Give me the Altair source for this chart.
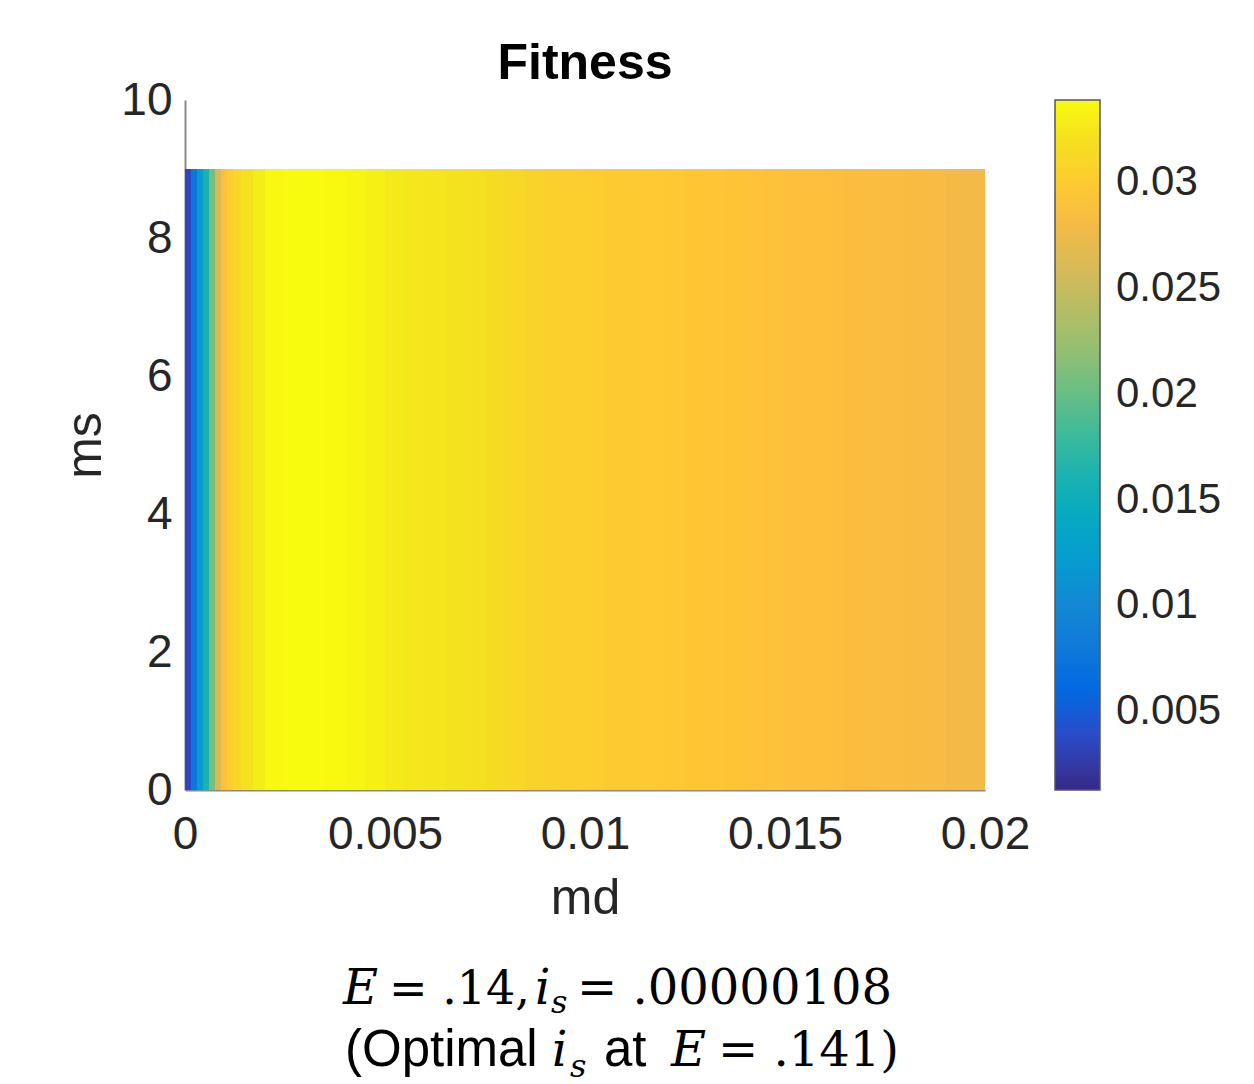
import altair as alt
import pandas as pd

# ---------------- data ----------------
md_edges = [0, 0.00015, 0.0003, 0.00045, 0.0006, 0.00075, 0.0009, 0.00105, 0.0012,
            0.0014, 0.0017, 0.002, 0.0025, 0.003, 0.0035, 0.004, 0.0045, 0.005,
            0.0055, 0.006, 0.0065, 0.007, 0.0075, 0.008, 0.0085, 0.009, 0.0095,
            0.01, 0.0105, 0.011, 0.0115, 0.012, 0.0125, 0.013, 0.0135, 0.014,
            0.0145, 0.015, 0.0155, 0.016, 0.0165, 0.017, 0.0175, 0.018, 0.0185,
            0.019, 0.0195, 0.02]
fitness = [0.0035, 0.0075, 0.0120, 0.0160, 0.0205, 0.0260, 0.0288, 0.0302,
           0.0312, 0.0322, 0.0330, 0.0337, 0.0339, 0.0339, 0.0338, 0.0335,
           0.0332, 0.0328, 0.0326, 0.0324, 0.0322, 0.0320, 0.0316, 0.0312,
           0.0308, 0.0305, 0.0303, 0.0301, 0.0300, 0.0299, 0.0298, 0.0297,
           0.0295, 0.0294, 0.0293, 0.0291, 0.0290, 0.0289, 0.0288, 0.0287,
           0.0286, 0.0285, 0.0284, 0.0283, 0.0282, 0.0280, 0.0279]
ms_min = 0
ms_max = 9

x_ticks = [0, 0.005, 0.01, 0.015, 0.02]
y_ticks = [0, 2, 4, 6, 8, 10]
cbar_ticks = [0.005, 0.01, 0.015, 0.02, 0.025, 0.03]
cbar_min = 0.00126
cbar_max = 0.0339

title_text = "Fitness"
x_title = "md"
y_title = "ms"

# ---------------- parula colormap ----------------
parula = [[0.2081, 0.1663, 0.5292], [0.2116, 0.1898, 0.5777], [0.2123, 0.2138, 0.6270], [0.2081, 0.2386, 0.6771],
          [0.1959, 0.2645, 0.7279], [0.1707, 0.2919, 0.7792], [0.1253, 0.3242, 0.8303], [0.0591, 0.3598, 0.8683],
          [0.0117, 0.3875, 0.8820], [0.0060, 0.4086, 0.8828], [0.0165, 0.4266, 0.8786], [0.0329, 0.4430, 0.8720],
          [0.0498, 0.4586, 0.8641], [0.0629, 0.4737, 0.8554], [0.0723, 0.4887, 0.8467], [0.0779, 0.5040, 0.8384],
          [0.0793, 0.5200, 0.8312], [0.0749, 0.5375, 0.8263], [0.0641, 0.5570, 0.8240], [0.0488, 0.5772, 0.8228],
          [0.0343, 0.5966, 0.8199], [0.0265, 0.6137, 0.8135], [0.0239, 0.6287, 0.8038], [0.0231, 0.6418, 0.7913],
          [0.0228, 0.6535, 0.7768], [0.0267, 0.6642, 0.7607], [0.0384, 0.6743, 0.7436], [0.0590, 0.6838, 0.7254],
          [0.0843, 0.6928, 0.7062], [0.1133, 0.7015, 0.6859], [0.1453, 0.7098, 0.6646], [0.1801, 0.7177, 0.6424],
          [0.2178, 0.7250, 0.6193], [0.2586, 0.7317, 0.5954], [0.3022, 0.7376, 0.5712], [0.3482, 0.7424, 0.5473],
          [0.3953, 0.7459, 0.5244], [0.4420, 0.7481, 0.5033], [0.4871, 0.7491, 0.4840], [0.5300, 0.7491, 0.4661],
          [0.5709, 0.7485, 0.4494], [0.6099, 0.7473, 0.4337], [0.6473, 0.7456, 0.4188], [0.6834, 0.7435, 0.4044],
          [0.7184, 0.7411, 0.3905], [0.7525, 0.7384, 0.3768], [0.7858, 0.7356, 0.3633], [0.8185, 0.7327, 0.3498],
          [0.8507, 0.7299, 0.3360], [0.8824, 0.7274, 0.3217], [0.9139, 0.7258, 0.3063], [0.9450, 0.7261, 0.2886],
          [0.9739, 0.7314, 0.2666], [0.9938, 0.7455, 0.2403], [0.9990, 0.7653, 0.2164], [0.9955, 0.7861, 0.1967],
          [0.9880, 0.8066, 0.1794], [0.9789, 0.8271, 0.1633], [0.9697, 0.8481, 0.1475], [0.9626, 0.8705, 0.1309],
          [0.9589, 0.8949, 0.1132], [0.9598, 0.9218, 0.0948], [0.9661, 0.9514, 0.0755], [0.9763, 0.9831, 0.0538]]
parula_hex = ["#%02x%02x%02x" % tuple(int(round(c * 255)) for c in rgb) for rgb in parula]
n = len(parula_hex)
color_domain = [cbar_min + (cbar_max - cbar_min) * i / (n - 1) for i in range(n)]

df = pd.DataFrame({
    "md_lo": md_edges[:-1],
    "md_hi": md_edges[1:],
    "fitness": fitness,
    "ms_lo": [ms_min] * len(fitness),
    "ms_hi": [ms_max] * len(fitness),
})

SANS = "Liberation Sans"
SERIF = "DejaVu Serif"
TXT = "#262626"
AX = "#8a8a8a"

cscale = alt.Scale(domain=color_domain, range=parula_hex, clamp=True)

heat = alt.Chart(df).mark_rect(strokeWidth=0).encode(
    x=alt.X("md_lo:Q", scale=alt.Scale(domain=[0, 0.02], nice=False, zero=False),
            axis=alt.Axis(title=x_title, values=x_ticks, format="~g", ticks=False, grid=False,
                          labelFontSize=46, labelFont=SANS, labelColor=TXT, labelPadding=22,
                          titleFontSize=50, titleFont=SANS, titleFontWeight="normal", titleColor=TXT,
                          titlePadding=16, domainColor=AX, domainWidth=2, labelFlush=False)),
    x2="md_hi:Q",
    y=alt.Y("ms_lo:Q", scale=alt.Scale(domain=[0, 10], nice=False),
            axis=alt.Axis(title=y_title, values=y_ticks, ticks=False, grid=False,
                          labelFontSize=46, labelFont=SANS, labelColor=TXT, labelPadding=13,
                          titleFontSize=50, titleFont=SANS, titleFontWeight="normal", titleColor=TXT,
                          titlePadding=10, domainColor=AX, domainWidth=2, labelFlush=False)),
    y2="ms_hi:Q",
    color=alt.Color("fitness:Q", scale=cscale,
                    legend=alt.Legend(type="gradient", title=None, orient="none", legendX=870, legendY=0,
                                      direction="vertical", gradientLength=690,
                                      gradientThickness=45, values=cbar_ticks, format="~g",
                                      labelFontSize=42, labelFont=SANS, labelColor=TXT,
                                      labelOffset=16, gradientStrokeColor="#555555",
                                      gradientStrokeWidth=1.5, labelOverlap=False, padding=0)),
)

# bottom annotation pieces
line1 = ["E", "= .14,", "i", "s", "= .00000108"]
line2 = ["(Optimal", "i", "s", "at", "E", "= .141)"]

def piece(text, xabs, yabs, font, size, style="normal"):
    return alt.Chart(pd.DataFrame({"t": [text]})).mark_text(
        align="left", baseline="alphabetic", font=font, fontSize=size,
        fontStyle=style, color="#000000"
    ).encode(x=alt.value(xabs - 185), y=alt.value(yabs - 100), text="t:N")

ann = [
    piece(line1[0], 343, 1004, SERIF, 48, "italic"),
    piece(line1[1], 389, 1004, SERIF, 46),
    piece(line1[2], 535, 1004, SERIF, 48, "italic"),
    piece(line1[3], 551, 1013, SERIF, 32, "italic"),
    piece(line1[4], 577, 1004, SERIF, 48),
    piece(line2[0], 345, 1066, SANS, 51),
    piece(line2[1], 552, 1066, SERIF, 48, "italic"),
    piece(line2[2], 570, 1077, SERIF, 32, "italic"),
    piece(line2[3], 604, 1066, SANS, 51),
    piece(line2[4], 671, 1066, SERIF, 48, "italic"),
    piece(line2[5], 718, 1066, SERIF, 48),
]

chart = alt.layer(heat, *ann).properties(
    width=800, height=690,
    background="white",
    title=alt.TitleParams(title_text, font=SANS, fontSize=50, fontWeight="bold",
                          color="#000000", anchor="middle", offset=-12),
    autosize=alt.AutoSizeParams(type="none"),
    padding={"left": 185, "top": 100, "right": 269, "bottom": 294},
).configure_view(stroke=None, strokeWidth=0)

chart.save("out.html", embed_options={"renderer": "svg", "actions": False})
